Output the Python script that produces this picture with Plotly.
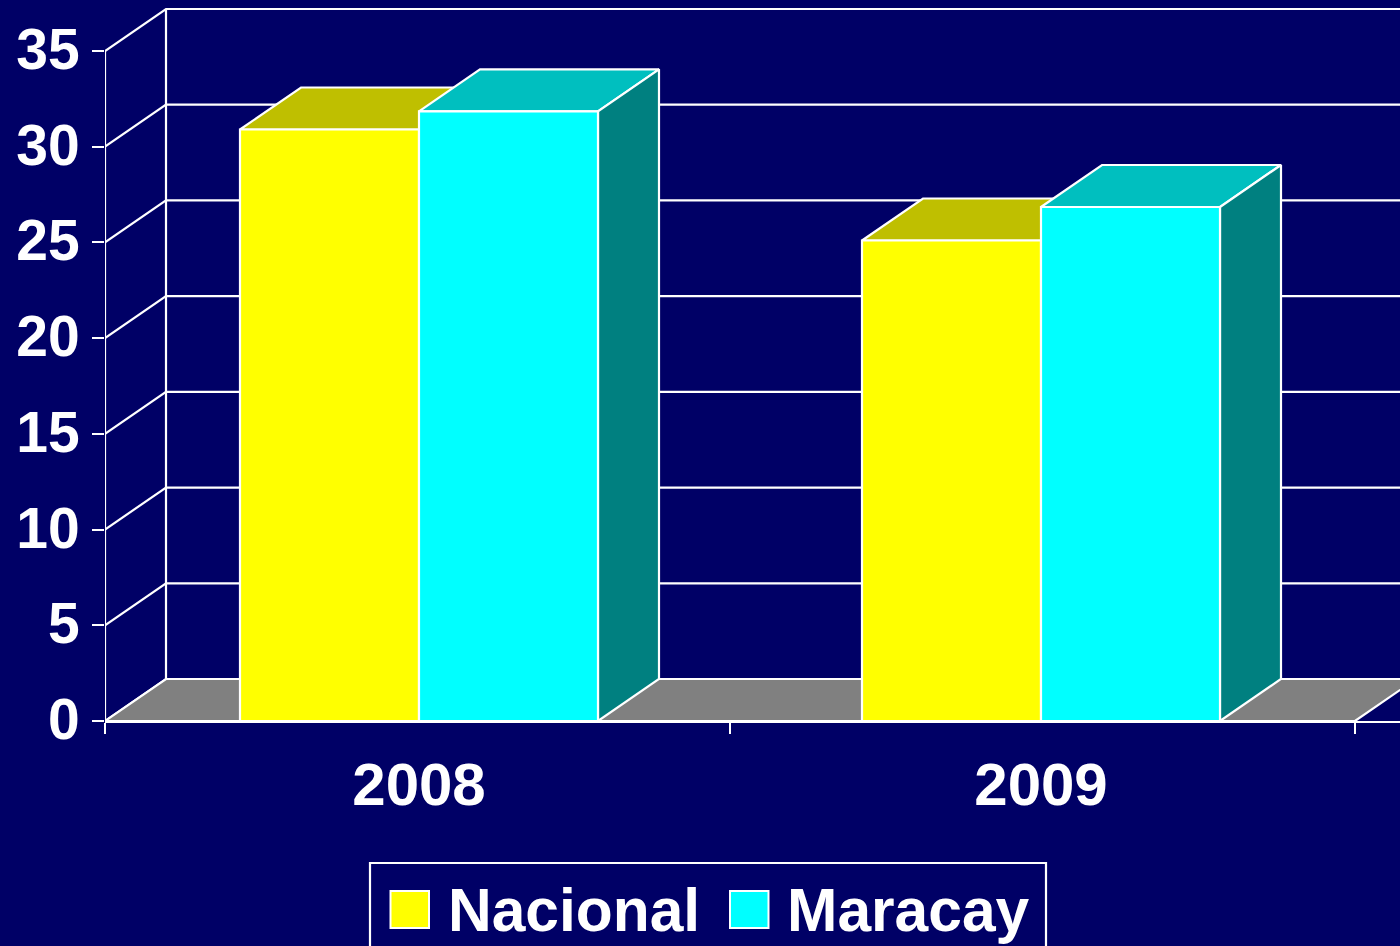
import plotly.graph_objects as go

categories = ["2008", "2009"]
series_names = ["Nacional", "Maracay"]
nacional = [30.9, 25.1]
maracay = [31.85, 26.85]
y_ticks = [0, 5, 10, 15, 20, 25, 30, 35]

PXX = 625.0      # px per category
PXY = 670 / 35.0 # px per value unit
DX = 61 / PXX    # depth offset, x
DY = 42 / PXY    # depth offset, y
BW = 179 / PXX   # bar width
GROUP_CENTER_0 = 314 / PXX
GROUP_PITCH = 622 / PXX
XMAX = (1400 - 105) / PXX
YMAX = 721 / PXY

BG = "#000066"
WHITE = "#FFFFFF"
FONT = "Liberation Sans"
LW = 2.2

fig = go.Figure()


def poly(xs, ys, fill=None, color=WHITE, width=LW):
    fig.add_trace(go.Scatter(
        x=xs, y=ys, mode="lines",
        line=dict(color=color, width=width),
        fill="toself" if fill else "none",
        fillcolor=fill, showlegend=False, hoverinfo="skip",
        cliponaxis=True,
    ))


# back wall gridlines and side wall diagonals
for t in y_ticks:
    poly([0, DX, XMAX], [t, t + DY, t + DY])
poly([DX, DX], [DY, 35 + DY])
poly([0, 0], [0, 35])

# floor
poly([0, DX, 2 + DX, 2, 0], [0, DY, DY, 0, 0], fill="#808080")

# bars, back to front: top and side faces plus front
styles = {
    "Nacional": dict(front="#FFFF00", top="#BFBF00", side="#808000"),
    "Maracay": dict(front="#00FFFF", top="#00BFBF", side="#008080"),
}
group_centers = [GROUP_CENTER_0 + i * GROUP_PITCH for i in range(len(categories))]
for i, cat in enumerate(categories):
    for j, (name, vals) in enumerate(zip(series_names, [nacional, maracay])):
        v = vals[i]
        x0 = group_centers[i] - BW + j * BW
        x1 = x0 + BW
        st = styles[name]
        poly([x0, x0 + DX, x1 + DX, x1, x0], [v, v + DY, v + DY, v, v], fill=st["top"])
        poly([x1, x1 + DX, x1 + DX, x1, x1], [0, DY, v + DY, v, 0], fill=st["side"])
        poly([x0, x1, x1, x0, x0], [0, 0, v, v, 0], fill=st["front"])

# custom legend
annotations = []
shapes = [dict(type="rect", xref="paper", yref="paper",
               x0=(370 - 105) / 1295, x1=(1046 - 105) / 1295,
               y0=-230 / 721, y1=(721 - 863) / 721,
               line=dict(color=WHITE, width=2.2), fillcolor=BG)]
for name, sx, tx, col in zip(series_names, [390.5, 730], [446, 785], ["#FFFF00", "#00FFFF"]):
    shapes.append(dict(type="rect", xref="paper", yref="paper",
                       x0=(sx - 105) / 1295, x1=(sx + 38.5 - 105) / 1295,
                       y0=(721 - 928) / 721, y1=(721 - 891) / 721,
                       line=dict(color=WHITE, width=2), fillcolor=col))
    annotations.append(dict(text=f"<b>{name}</b>", xref="paper", yref="paper",
                            x=(tx - 105) / 1295, y=(721 - 910) / 721,
                            xanchor="left", yanchor="middle", showarrow=False,
                            font=dict(family=FONT, size=60.5, color=WHITE)))

fig.update_layout(
    width=1400, height=946,
    margin=dict(l=105, r=0, t=0, b=225, autoexpand=False),
    paper_bgcolor=BG, plot_bgcolor=BG,
    showlegend=False,
    shapes=shapes, annotations=annotations,
    font=dict(family=FONT, color=WHITE),
    xaxis=dict(
        range=[0, XMAX], tickmode="array",
        tickvals=group_centers, ticktext=[f"<b>{c}</b>" for c in categories],
        ticks="", showgrid=False, zeroline=False,
        showline=True, linecolor=WHITE, linewidth=2.2,
        tickfont=dict(family=FONT, size=60, color=WHITE),
        ticklabelstandoff=10,
        minor=dict(tickmode="array", tickvals=[0, 1, 2], ticks="outside",
                   ticklen=11, tickwidth=2.2, tickcolor=WHITE, showgrid=False),
    ),
    yaxis=dict(
        range=[0, YMAX], tickmode="array",
        tickvals=y_ticks, ticktext=[f"<b>{t}</b>" for t in y_ticks],
        ticks="outside", ticklen=12, tickwidth=2.2, tickcolor=WHITE,
        showgrid=False, zeroline=False, showline=False,
        tickfont=dict(family=FONT, size=57, color=WHITE),
        ticklabelstandoff=1, ticklabelshift=-2,
    ),
)

fig.write_html(
    "out.html",
    config={"displayModeBar": False},
    post_script="document.body.style.margin='0';document.body.style.overflow='hidden';document.body.style.background='#000066';",
)
